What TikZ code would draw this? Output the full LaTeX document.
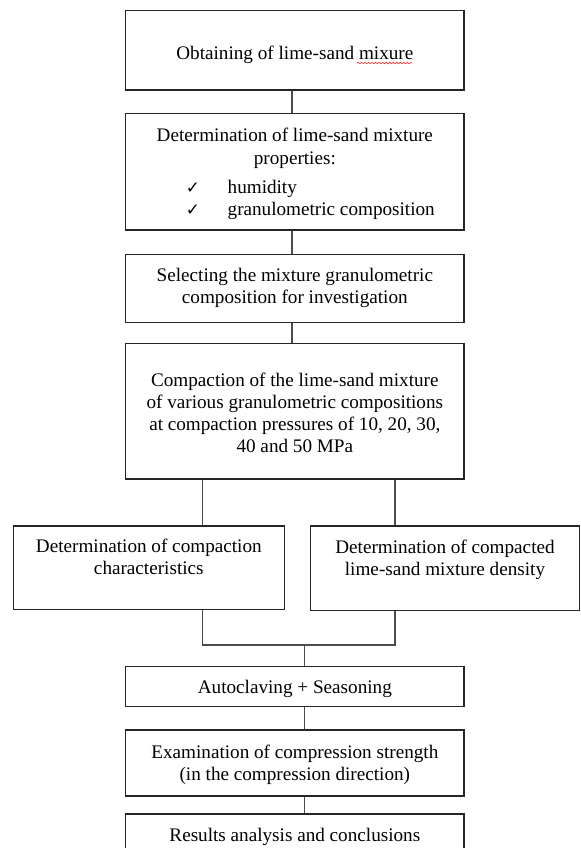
\documentclass[tikz,border=0pt]{standalone}
\usepackage{fontspec}
\setmainfont{Liberation Serif}
\newfontfamily\checkfont{DejaVu Sans}
\usetikzlibrary{decorations.pathmorphing}

\newlength{\px}
\setlength{\px}{0.022cm}
\newcommand{\tick}{{\checkfont\fontsize{10.5}{12}\selectfont ✓}}
\newcommand{\lift}[1]{\rule{0pt}{#1}}

\begin{document}
\begin{tikzpicture}[x=0.022cm,y=-0.022cm]
\tikzset{stage/.style={draw=black!85,line width=0.8pt,inner sep=0pt,align=center,minimum width=338.3\px,font=\fontsize{12}{13.8}\selectfont}}
\tikzset{branch/.style={stage,minimum width=270\px,minimum height=84\px}}
\tikzset{link/.style={draw=black!70,line width=0.8pt}}
\tikzset{spellwave/.style={draw=red!80,line width=0.4pt,decorate,decoration={snake,amplitude=0.5pt,segment length=2.2pt}}}

\useasboundingbox (0,0) rectangle (580,848);
\clip (0,0) rectangle (580,848);

% main column
\node[stage,minimum height=79.7\px] (obtain) at (294.85,50.15) {\lift{14.4pt}Obtaining of lime-sand mixure};
\node[stage,minimum height=116.7\px] (props) at (294.85,171.65) {\lift{12.8pt}Determination of lime-sand mixture\\properties:\\[5pt]
  \hspace*{0.68cm}\begin{tabular}{@{}p{0.92cm}@{}l@{}}\tick & humidity\\ \tick & granulometric composition\end{tabular}};
\node[stage,minimum height=68\px] (select) at (294.85,288.3) {Selecting the mixture granulometric\\composition for investigation};
\node[stage,minimum height=135.7\px] (compact) at (294.85,411.15) {\lift{11pt}Compaction of the lime-sand mixture\\of various granulometric compositions\\at compaction pressures of 10, 20, 30,\\40 and 50 MPa};

% the two branches
\node[branch,minimum width=271\px,minimum height=83.5\px] (charact) at (148.8,567.75) {\lift{13pt}Determination of compaction\\characteristics\\ \strut};
\node[branch,minimum width=268.6\px,minimum height=84.5\px] (density) at (445,568.25) {\lift{13pt}Determination of compacted\\lime-sand mixture density\\ \strut};

\node[stage,minimum height=40\px] (autoclave) at (294.85,686.7) {\lift{10.7pt}Autoclaving + Seasoning};
\node[stage,minimum height=66\px] (strength) at (294.85,763) {\lift{10.7pt}Examination of compression strength\\(in the compression direction)};
\node[stage,minimum height=40\px] (results) at (294.85,834) {\lift{11.9pt}Results analysis and conclusions};

\path[spellwave] (357,63) -- (412,63);

\coordinate (upper) at (292,0);
\coordinate (lower) at (304.3,0);
\coordinate (lbranch) at (202.7,0);
\coordinate (rbranch) at (395,0);
\coordinate (merge) at (304.3,645);

\foreach \a/\b in {obtain/props,props/select,select/compact} {
  \path[link] (\a.south -| upper) -- (\b.north -| upper);
}
\path[link] (compact.south -| lbranch) -- (charact.north -| lbranch);
\path[link] (compact.south -| rbranch) -- (density.north -| rbranch);
\path[link] (charact.south -| lbranch) |- (merge) -| (density.south -| rbranch);
\path[link] (merge) -- (autoclave.north -| merge);
\foreach \a/\b in {autoclave/strength,strength/results} {
  \path[link] (\a.south -| lower) -- (\b.north -| lower);
}
\end{tikzpicture}
\end{document}
